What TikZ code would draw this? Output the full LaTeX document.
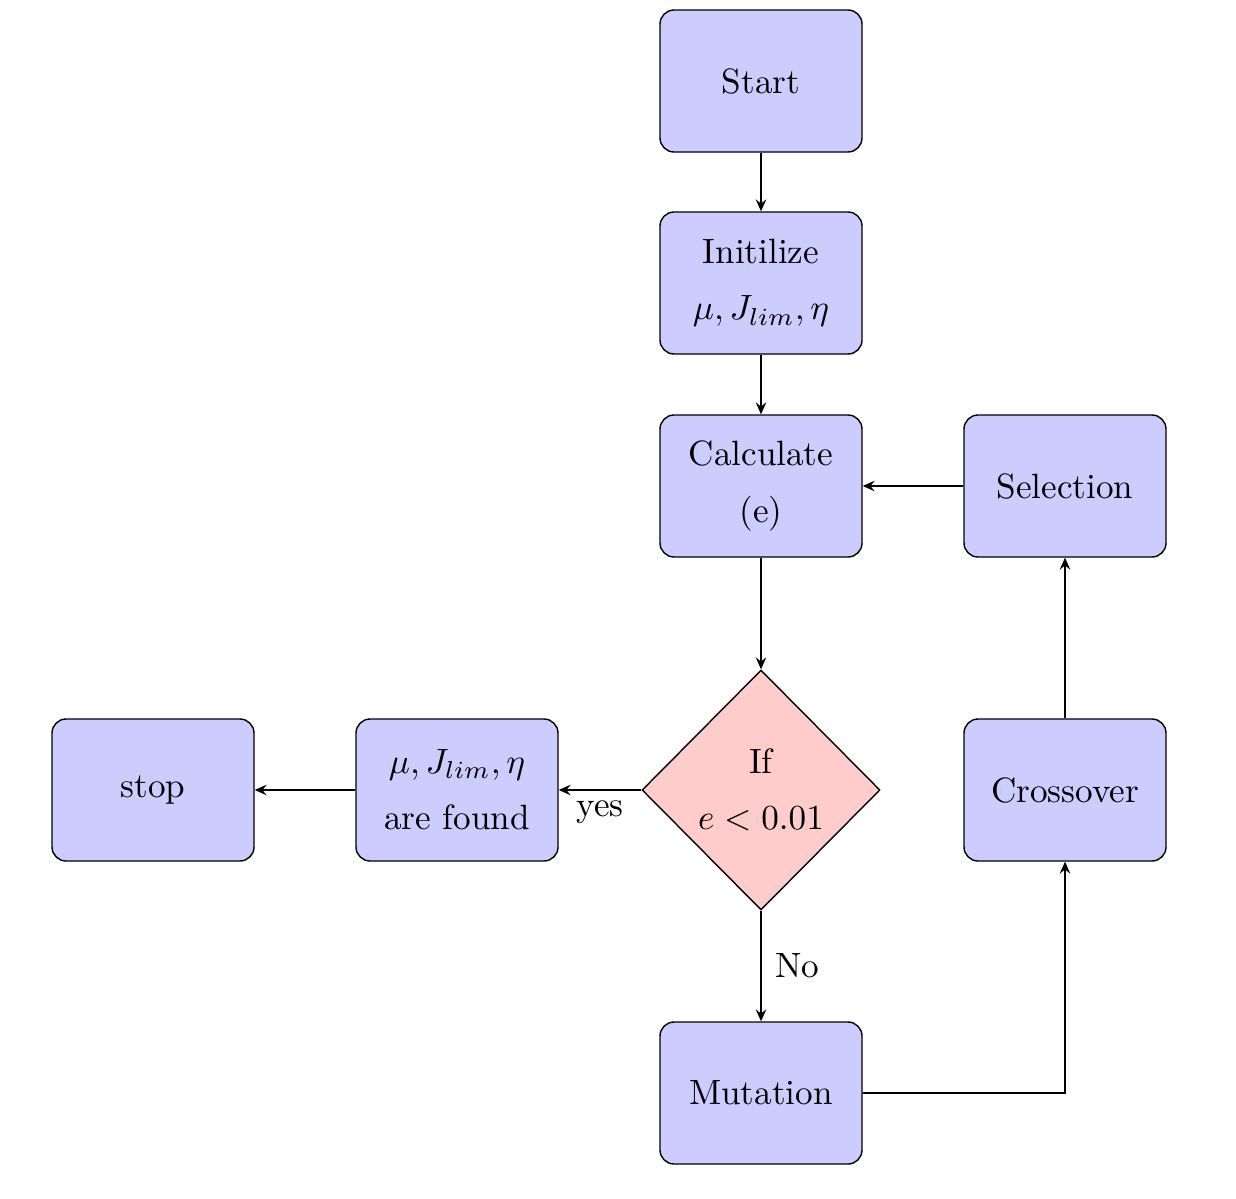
\documentclass[tikz,border=0pt]{standalone}
\usetikzlibrary{shapes.geometric,arrows.meta}
\begin{document}
\begin{tikzpicture}[
  box/.style={draw, rounded corners=4pt, fill=blue!20, minimum width=2.02cm, minimum height=1.42cm, inner sep=0pt, align=center, font=\normalsize},
  dec/.style={draw, diamond, fill=red!20, minimum width=2.38cm, minimum height=2.4cm, inner sep=0pt, align=center},
  arr/.style={-{Stealth[length=3.4pt,width=3pt,inset=1.2pt]}},
  lbl/.style={inner sep=1pt}
]
\useasboundingbox (0,0) rectangle (12.36,-11.98);
\node[box] (start) at (7.61,-0.81) {Start};
\node[box] (init) at (7.61,-2.83) {Initilize\\[4pt]$\mu, J_{lim}, \eta$};
\node[box] (calc) at (7.61,-4.86) {Calculate\\[4pt](e)};
\node[box] (sel) at (10.65,-4.86) {Selection};
\node[dec] (dia) at (7.61,-7.90) {If\\[4pt]$e<0.01$};
\node[box] (cross) at (10.65,-7.90) {Crossover};
\node[box] (mut) at (7.61,-10.93) {Mutation};
\node[box] (found) at (4.57,-7.90) {$\mu, J_{lim}, \eta$\\[4pt]are found};
\node[box] (stop) at (1.53,-7.90) {stop};
\draw[arr] (start) -- (init);
\draw[arr] (init) -- (calc);
\draw[arr] (calc) -- (dia);
\draw[arr] (sel) -- (calc);
\draw[arr] (dia) -- node[lbl, below, pos=0.5, yshift=-0.07cm] {yes} (found);
\draw[arr] (found) -- (stop);
\draw[arr] (dia) -- node[lbl, right, pos=0.5, xshift=0.1cm] {No} (mut);
\draw[arr] (mut) -| (cross);
\draw[arr] (cross) -- (sel);
\end{tikzpicture}
\end{document}
